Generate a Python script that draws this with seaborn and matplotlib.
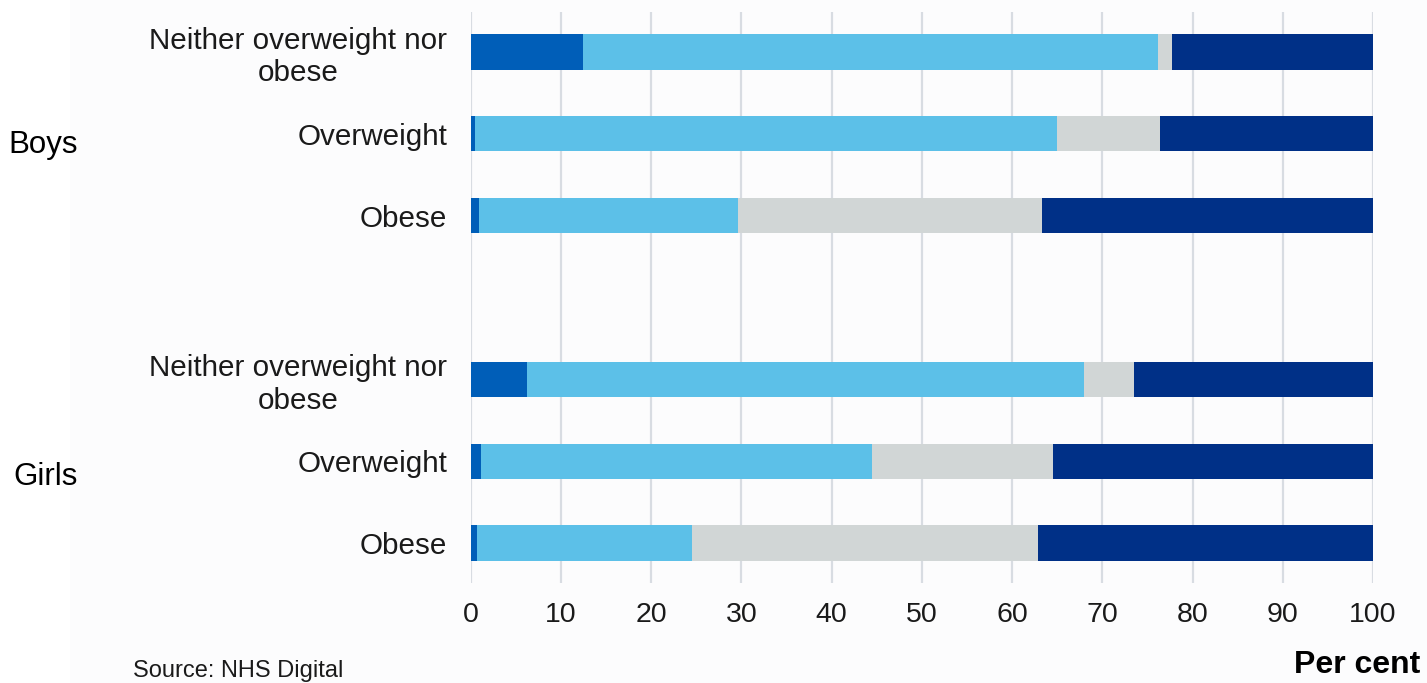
import matplotlib
matplotlib.use("Agg")
import matplotlib.pyplot as plt
from matplotlib.patches import Rectangle
import numpy as np
import pandas as pd
import seaborn as sns

# Weight perception by actual weight status, boys and girls (per cent)
groups = ["Boys", "Boys", "Boys", "Girls", "Girls", "Girls"]
status = ["Neither overweight nor\nobese", "Overweight", "Obese",
          "Neither overweight nor\nobese", "Overweight", "Obese"]
too_light = [12.4, 0.5, 0.9, 6.2, 1.1, 0.7]
about_right = [63.8, 64.5, 28.7, 61.8, 43.4, 23.8]
dont_know = [1.5, 11.4, 33.7, 5.5, 20.0, 38.4]
too_heavy = [22.3, 23.6, 36.7, 26.5, 35.5, 37.1]

series_colors = ["#005EB8", "#5CC0E8", "#D1D6D6", "#003087"]

sns.set_theme(style="whitegrid")
plt.rcParams["font.family"] = ["Liberation Sans", "DejaVu Sans"]

keys = [f"{g}|{s}" for g, s in zip(groups, status)]
order = keys[:3] + ["gap"] + keys[3:]

df = pd.DataFrame({"row": keys})
parts = np.array([too_light, about_right, dont_know, too_heavy])
cum = np.cumsum(parts, axis=0)

fig = plt.figure(figsize=(14.27, 6.83), dpi=100)
fig.patches.append(Rectangle((70 / 1427, 0), 1, 1, transform=fig.transFigure,
                             facecolor="#fcfcfd", edgecolor="none", zorder=-10))
ax = fig.add_axes([470.7 / 1427, 1 - 583 / 683, (1373 - 470.7) / 1427, (583 - 12) / 683])
ax.set_facecolor("none")

# stacked bars: draw cumulative ends from the outermost inwards
for i in range(3, -1, -1):
    df["end"] = cum[i]
    sns.barplot(data=df, x="end", y="row", order=order, orient="h",
                color=series_colors[i], saturation=1, width=0.43,
                errorbar=None, linewidth=0, ax=ax)

ax.set_xlim(0, 100)
ax.set_ylim(6.49, -0.49)
ax.set_xticks(range(0, 101, 10))
ax.set_yticks([0, 1, 2, 4, 5, 6])
ax.set_yticklabels(status)
for lab in ax.get_yticklabels():
    lab.set_multialignment("center")
ax.set_xlabel("")
ax.set_ylabel("")
ax.tick_params(axis="x", length=0, pad=14, labelsize=20.5, labelcolor="#1a1a1a")
ax.tick_params(axis="y", length=0, pad=17, labelsize=21.3, labelcolor="#1a1a1a")
for sp in ax.spines.values():
    sp.set_visible(False)
ax.grid(axis="y", visible=False)
ax.grid(axis="x", color="#d8dce2", linewidth=1.6)
ax.set_axisbelow(True)

fig.text(78 / 1427, 1 - 145 / 683, "Boys", ha="right", va="center",
         fontsize=22.5, color="black")
fig.text(78 / 1427, 1 - 477 / 683, "Girls", ha="right", va="center",
         fontsize=22.5, color="black")
fig.text(1420 / 1427, 1 - 665 / 683, "Per cent", ha="right", va="center",
         fontsize=23, fontweight="bold", color="black")
fig.text(133 / 1427, 1 / 683, "Source: NHS Digital", ha="left", va="bottom",
         fontsize=17, color="#1a1a1a")

fig.savefig("out.png", dpi=100)
